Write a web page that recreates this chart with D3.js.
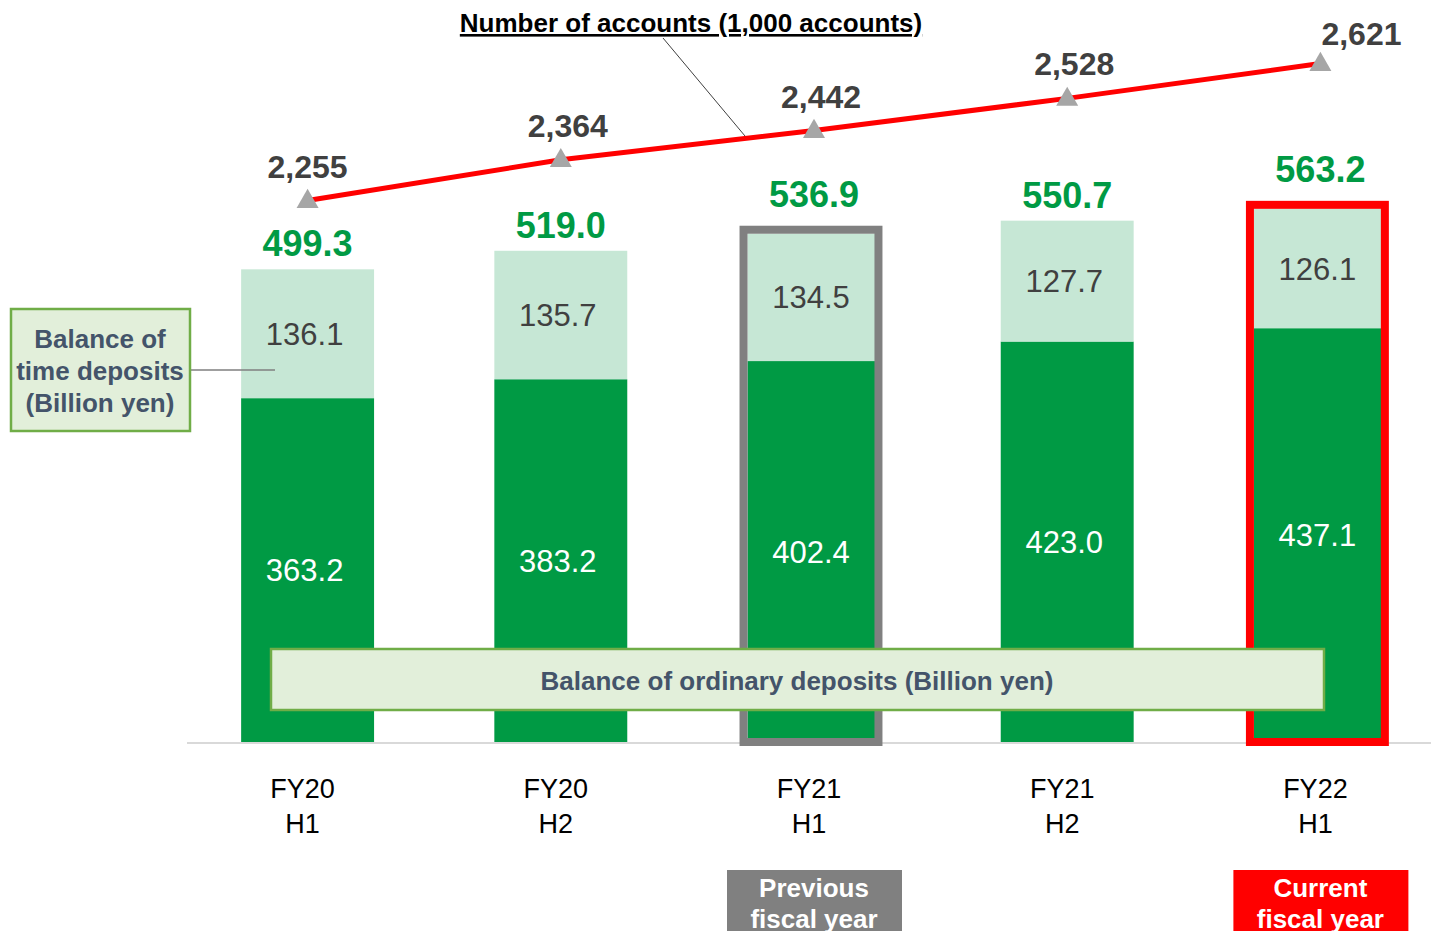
<!DOCTYPE html>
<html>
<head>
<meta charset="utf-8">
<script src="https://cdn.jsdelivr.net/npm/d3@7"></script>
<style>
  body { margin: 0; background: #fff; }
  svg { display: block; font-family: "Liberation Sans", Arial, sans-serif; }
</style>
</head>
<body>
<div id="chart"></div>
<script>
// data
const categories = ["FY20 H1", "FY20 H2", "FY21 H1", "FY21 H2", "FY22 H1"];
const ordinary = [363.2, 383.2, 402.4, 423.0, 437.1];   // Balance of ordinary deposits
const timeDeposits = [136.1, 135.7, 134.5, 127.7, 126.1]; // Balance of time deposits
const totals = [499.3, 519.0, 536.9, 550.7, 563.2];
const accounts = [2255, 2364, 2442, 2528, 2621];         // 1,000 accounts
const highlightCats = ["FY21 H1", "FY22 H1"];
const highlightText = [["Previous", "fiscal year"], ["Current", "fiscal year"]];
const highlightColors = ["#808080", "#ff0000"];

const width = 1431;
const height = 931;
const baseY = 742;

const darkGreen = "#009a44";
const lightGreen = "#c6e7d5";
const textGray = "#404040";
const noteText = "#44546a";

const svg = d3.select("#chart")
  .append("svg")
    .attr("width", width)
    .attr("height", height);

const x = d3.scaleBand()
  .domain(categories)
  .range([181, 1447])
  .paddingInner(0.475)
  .paddingOuter(0.2375);

const y = d3.scaleLinear()
  .domain([0, 600])
  .range([baseY, 174]);

const yLine = d3.scaleLinear()
  .domain([800, 2700])
  .range([745, 34]);

const rows = categories.map((c, i) => ({cat: c, ordinary: ordinary[i], time: timeDeposits[i], total: totals[i], acc: accounts[i]}));
const stacked = d3.stack().keys(["ordinary", "time"])(rows);
const fills = {ordinary: darkGreen, time: lightGreen};

// baseline
svg.append("line")
  .attr("x1", 187).attr("x2", width)
  .attr("y1", baseY + 1).attr("y2", baseY + 1)
  .attr("stroke", "#d9d9d9")
  .attr("stroke-width", 2);

// stacked bars
svg.append("g")
  .selectAll("g")
  .data(stacked)
  .join("g")
    .attr("fill", s => fills[s.key])
  .selectAll("rect")
  .data(s => s)
  .join("rect")
    .attr("x", d => x(d.data.cat))
    .attr("y", d => y(d[1]))
    .attr("width", x.bandwidth())
    .attr("height", d => y(d[0]) - y(d[1]));

// segment values
const segLabels = svg.append("g")
  .attr("text-anchor", "middle")
  .style("font-size", "31px");
segLabels.selectAll("text.ord")
  .data(rows)
  .join("text")
    .attr("class", "ord")
    .attr("x", d => x(d.cat) + x.bandwidth() / 2 - 3)
    .attr("y", d => (y(0) + y(d.ordinary)) / 2 + 11)
    .attr("fill", "#fff")
    .text(d => d.ordinary.toFixed(1));
segLabels.selectAll("text.tim")
  .data(rows)
  .join("text")
    .attr("class", "tim")
    .attr("x", d => x(d.cat) + x.bandwidth() / 2 - 3)
    .attr("y", d => (y(d.ordinary) + y(d.ordinary + d.time)) / 2 + 11)
    .attr("fill", textGray)
    .text(d => d.time.toFixed(1));

// highlight frames
highlightCats.forEach((c, i) => {
  const top = y(totals[categories.indexOf(c)]);
  svg.append("rect")
    .attr("x", x(c) - 4)
    .attr("y", top - 4)
    .attr("width", x.bandwidth() + 2)
    .attr("height", baseY - top + 4)
    .attr("fill", "none")
    .attr("stroke", highlightColors[i])
    .attr("stroke-width", 8);
});

// totals
svg.append("g")
  .selectAll("text")
  .data(rows)
  .join("text")
    .attr("x", d => x(d.cat) + x.bandwidth() / 2)
    .attr("y", d => y(d.total) - (highlightCats.includes(d.cat) ? 27 : 13))
    .attr("text-anchor", "middle")
    .attr("fill", darkGreen)
    .style("font-size", "36px")
    .style("font-weight", "bold")
    .text(d => d.total.toFixed(1));

// ordinary deposits note
svg.append("rect")
  .attr("x", 271).attr("y", 649)
  .attr("width", 1053).attr("height", 61)
  .attr("fill", "#e2efda")
  .attr("stroke", "#70ad47")
  .attr("stroke-width", 2.5);
svg.append("text")
  .attr("x", 797).attr("y", 690)
  .attr("text-anchor", "middle")
  .attr("fill", noteText)
  .style("font-size", "26px")
  .style("font-weight", "bold")
  .text("Balance of ordinary deposits (Billion yen)");

// time deposits note
svg.append("line")
  .attr("x1", 190).attr("x2", 275)
  .attr("y1", 370).attr("y2", 370)
  .attr("stroke", "#7f7f7f")
  .attr("stroke-width", 1.5);
svg.append("rect")
  .attr("x", 11).attr("y", 309)
  .attr("width", 179).attr("height", 122)
  .attr("fill", "#e2efda")
  .attr("stroke", "#70ad47")
  .attr("stroke-width", 2.5);
svg.append("text")
  .attr("text-anchor", "middle")
  .attr("fill", noteText)
  .style("font-size", "26px")
  .style("font-weight", "bold")
  .selectAll("tspan")
  .data(["Balance of", "time deposits", "(Billion yen)"])
  .join("tspan")
    .attr("x", 100)
    .attr("y", (d, i) => 348 + i * 32)
    .text(d => d);

// accounts line
const linePts = rows.map(d => [x(d.cat) + x.bandwidth() / 2, yLine(d.acc)]);
svg.append("line")
  .attr("x1", 663).attr("y1", 38)
  .attr("x2", 745).attr("y2", 136)
  .attr("stroke", "#404040")
  .attr("stroke-width", 1);
svg.append("path")
  .attr("d", d3.line()(linePts))
  .attr("fill", "none")
  .attr("stroke", "#ff0000")
  .attr("stroke-width", 5);
svg.append("g")
  .selectAll("path")
  .data(linePts)
  .join("path")
    .attr("transform", p => `translate(${p[0]},${p[1] + 1})`)
    .attr("d", d3.symbol(d3.symbolTriangle).size(210))
    .attr("fill", "#a6a6a6");
svg.append("g")
  .selectAll("text")
  .data(rows)
  .join("text")
    .attr("x", (d, i) => linePts[i][0] + (i === rows.length - 1 ? 1 : (i === 0 ? 0 : 7)))
    .attr("y", (d, i) => linePts[i][1] - (i === rows.length - 1 ? 19 : 23))
    .attr("text-anchor", (d, i) => i === rows.length - 1 ? "start" : "middle")
    .attr("fill", textGray)
    .style("font-size", "32px")
    .style("font-weight", "bold")
    .text(d => d3.format(",")(d.acc));

// line title
svg.append("text")
  .attr("x", 691).attr("y", 32)
  .attr("text-anchor", "middle")
  .attr("fill", "#000")
  .style("font-size", "26px")
  .style("font-weight", "bold")
  .style("text-decoration", "underline")
  .text("Number of accounts (1,000 accounts)");

// category labels
svg.append("g")
  .attr("text-anchor", "middle")
  .style("font-size", "27px")
  .selectAll("text")
  .data(categories)
  .join("text")
    .attr("fill", "#000")
  .selectAll("tspan")
  .data(c => c.split(" ").map(t => ({c, t})))
  .join("tspan")
    .attr("x", d => x(d.c) + x.bandwidth() / 2 - 5)
    .attr("y", (d, i) => 798 + i * 35)
    .text(d => d.t);

// highlight tags under the axis
highlightCats.forEach((c, i) => {
  const cx = x(c) + x.bandwidth() / 2;
  svg.append("rect")
    .attr("x", cx - 87).attr("y", 870)
    .attr("width", 175).attr("height", 70)
    .attr("fill", highlightColors[i]);
  svg.append("text")
    .attr("text-anchor", "middle")
    .attr("fill", "#fff")
    .style("font-size", "26px")
    .style("font-weight", "bold")
    .selectAll("tspan")
    .data(highlightText[i])
    .join("tspan")
      .attr("x", cx)
      .attr("y", (d, k) => 897 + k * 31)
      .text(d => d);
});
</script>
</body>
</html>
